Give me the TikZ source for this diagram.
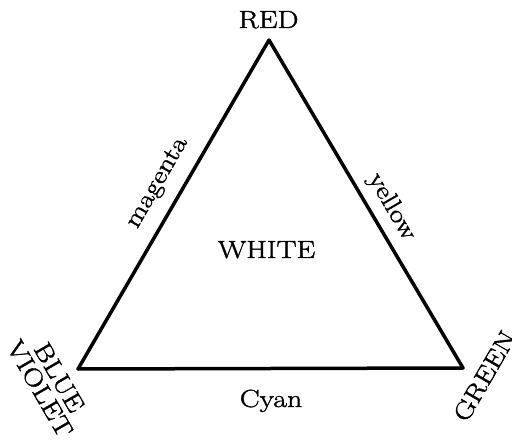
\documentclass[tikz,border=0pt]{standalone}
\usepackage{fontspec}
\setmainfont{Latin Modern Roman}[FakeStretch=1.2,FakeBold=1.6]
\begin{document}
\begin{tikzpicture}[x=1pt,y=-1pt,
  lbl/.style={inner sep=0pt,font=\fontsize{24.8}{22.4}\selectfont},
  edge/.style={line width=3.5pt,line join=round}]
\useasboundingbox (0,0) rectangle (512,441);
\coordinate (R) at (269,40);
\coordinate (B) at (78,369);
\coordinate (G) at (463,368);
\draw[edge] (R) -- (G) -- (B) -- cycle;
\node[lbl,anchor=base] (red) at (268.5,28) {RED};
\node[lbl,anchor=base] (white) at (266.5,258) {WHITE};
\node[lbl,anchor=base] (cyan) at (271,407) {Cyan};
\node[lbl,rotate=60] (magenta) at (158,183) {magenta};
\node[lbl,rotate=-60] (yellow) at (391.5,207) {yellow};
\node[lbl,rotate=60] (green) at (484.5,376) {GREEN};
\node[lbl,rotate=-60,align=center] (blue) at (49.5,383) {BLUE\\VIOLET};
\end{tikzpicture}
\end{document}
